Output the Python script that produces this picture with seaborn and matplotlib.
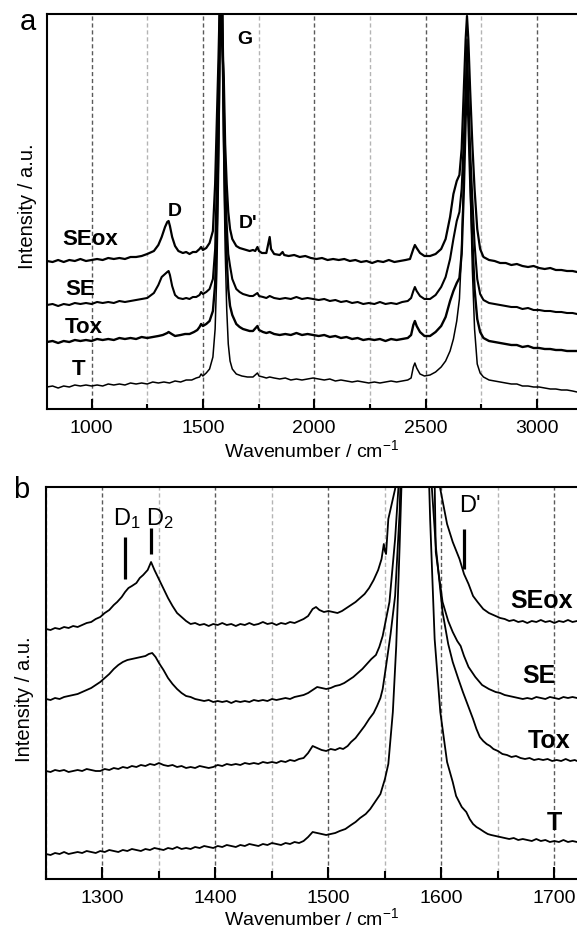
import matplotlib
matplotlib.use("Agg")
import matplotlib.pyplot as plt
import numpy as np
import pandas as pd
import seaborn as sns
from matplotlib.ticker import MultipleLocator

SAMPLES = ["SEox", "SE", "Tox", "T"]

# ---------------- panel a : full Raman spectra (wavenumber, intensity) ----------------
A_SEOX = [(800,148),(825,147),(850,149),(875,147),(900,149),(925,148),(950,150),(975,148),(1000,149),
          (1025,150),(1050,149),(1075,151),(1100,150),(1125,151),(1150,150),(1175,152),(1200,152),
          (1225,153),(1250,155),(1280,158),(1300,164),(1315,172),(1330,182),(1340,187),(1346,188),
          (1352,183),(1362,172),(1375,163),(1390,158),(1410,156),(1425,157),(1440,155),(1455,157),
          (1470,157),(1485,160),(1492,162),(1500,159),(1515,161),(1530,166),(1545,178),(1555,225),
          (1563,290),(1570,350),(1576,410),(1582,520),(1588,410),(1594,330),(1600,265),(1607,225),
          (1614,197),(1622,180),(1632,170),(1650,163),(1665,161),(1680,160),(1695,159),(1710,158),
          (1725,159),(1735,158),(1745,162),(1752,158),(1765,156),(1785,156),(1795,167),(1800,172),
          (1806,160),(1820,155),(1845,154),(1858,157),(1865,154),(1885,153),(1910,154),(1935,152),
          (1960,153),(1985,151),(2010,150),(2035,151),(2060,149),(2085,150),(2110,149),(2135,150),
          (2160,148),(2185,149),(2210,147),(2235,148),(2260,146),(2285,148),(2310,147),(2335,149),
          (2360,147),(2385,148),(2410,149),(2430,150),(2445,160),(2452,164),(2460,161),(2475,156),
          (2495,153),(2520,153),(2545,155),(2570,160),(2590,170),(2610,192),(2625,215),(2640,228),
          (2652,234),(2662,260),(2672,320),(2680,370),(2686,393),(2692,370),(2700,320),(2710,265),
          (2720,220),(2732,180),(2745,160),(2760,152),(2785,149),(2810,148),(2835,146),(2860,146),
          (2885,144),(2910,145),(2935,143),(2960,142),(2985,143),(3010,141),(3035,140),(3060,141),
          (3085,139),(3110,139),(3135,138),(3160,138),(3180,137)]
A_SE = [(800,104),(825,105),(850,103),(875,105),(900,104),(925,106),(950,105),(975,106),(1000,105),
        (1025,107),(1050,106),(1075,107),(1100,106),(1125,108),(1150,107),(1175,108),(1200,109),
        (1225,110),(1250,111),(1280,116),(1300,124),(1315,132),(1330,135),(1340,137),(1346,138),
        (1352,134),(1362,123),(1375,114),(1390,111),(1410,110),(1425,111),(1440,110),(1455,112),
        (1470,112),(1485,114),(1492,117),(1500,115),(1515,117),(1530,120),(1545,130),(1555,160),
        (1563,230),(1570,310),(1576,400),(1582,520),(1588,395),(1594,305),(1600,230),(1607,185),
        (1614,155),(1622,143),(1632,130),(1650,120),(1665,117),(1680,115),(1695,114),(1710,113),
        (1725,113),(1745,116),(1752,113),(1770,112),(1785,111),(1800,113),(1820,111),(1845,110),
        (1870,111),(1895,110),(1920,112),(1945,110),(1970,111),(1995,110),(2020,109),(2045,110),
        (2070,108),(2095,109),(2120,107),(2145,108),(2170,106),(2195,107),(2220,105),(2245,106),
        (2270,105),(2295,107),(2320,105),(2345,106),(2370,105),(2395,107),(2420,108),(2435,111),
        (2445,118),(2452,122),(2460,118),(2475,113),(2495,110),(2520,110),(2545,114),(2570,122),
        (2590,132),(2610,150),(2625,170),(2640,188),(2652,197),(2662,220),(2672,270),(2680,320),
        (2686,348),(2692,315),(2700,260),(2710,210),(2720,165),(2732,130),(2745,115),(2760,109),
        (2785,106),(2810,105),(2835,104),(2860,103),(2885,102),(2910,102),(2935,100),(2960,101),
        (2985,99),(3010,99),(3035,98),(3060,98),(3085,97),(3110,97),(3135,96),(3160,96),(3180,95)]
A_TOX = [(800,67),(825,68),(850,66),(875,68),(900,67),(925,69),(950,68),(975,69),(1000,68),
         (1025,70),(1050,69),(1075,70),(1100,69),(1125,71),(1150,70),(1175,71),(1200,70),(1225,72),
         (1250,71),(1275,72),(1300,73),(1320,74),(1340,76),(1346,77),(1360,75),(1375,73),(1400,74),
         (1420,75),(1440,75),(1460,77),(1475,79),(1485,82),(1492,85),(1500,83),(1515,85),(1530,88),
         (1545,98),(1555,125),(1563,185),(1570,270),(1576,370),(1582,520),(1588,380),(1594,275),
         (1600,200),(1607,150),(1614,120),(1622,103),(1632,94),(1650,85),(1665,82),(1680,80),
         (1695,79),(1710,78),(1725,78),(1745,83),(1752,79),(1770,77),(1785,76),(1800,77),(1820,75),
         (1845,74),(1870,75),(1895,74),(1920,76),(1945,74),(1970,75),(1995,74),(2020,73),(2045,74),
         (2070,72),(2095,73),(2120,71),(2145,72),(2170,70),(2195,71),(2220,69),(2245,70),(2270,69),
         (2295,70),(2320,68),(2345,70),(2370,69),(2395,70),(2420,71),(2435,74),(2445,84),(2452,88),
         (2460,83),(2475,77),(2495,73),(2520,73),(2545,77),(2570,83),(2590,92),(2610,108),(2625,118),
         (2640,126),(2652,131),(2662,155),(2672,220),(2680,290),(2686,330),(2692,290),(2700,230),
         (2710,170),(2720,120),(2732,90),(2745,77),(2760,71),(2785,68),(2810,67),(2835,66),(2860,65),
         (2885,64),(2910,64),(2935,62),(2960,63),(2985,61),(3010,61),(3035,60),(3060,60),(3085,59),
         (3110,59),(3135,58),(3160,58),(3180,58)]
A_T = [(800,22),(825,23),(850,21),(875,23),(900,22),(925,24),(950,23),(975,24),(1000,23),(1025,24),
       (1050,23),(1075,25),(1100,24),(1125,25),(1150,24),(1175,26),(1200,25),(1225,26),(1250,25),
       (1275,27),(1300,26),(1325,27),(1350,26),(1375,28),(1400,27),(1425,29),(1450,29),(1470,31),
       (1485,32),(1492,35),(1500,33),(1515,36),(1530,40),(1545,52),(1555,80),(1563,140),(1570,230),
       (1576,340),(1582,520),(1588,355),(1594,245),(1600,160),(1607,100),(1614,65),(1622,48),
       (1632,40),(1650,35),(1675,33),(1700,32),(1725,32),(1745,36),(1752,33),(1770,32),(1785,31),
       (1800,32),(1820,31),(1845,30),(1870,31),(1895,29),(1920,30),(1945,29),(1970,30),(1995,31),
       (2020,30),(2045,29),(2070,30),(2095,28),(2120,29),(2145,28),(2170,27),(2195,28),(2220,27),
       (2245,26),(2270,27),(2295,26),(2320,27),(2345,28),(2370,27),(2395,28),(2420,29),(2435,31),
       (2445,42),(2452,46),(2460,41),(2475,35),(2495,33),(2520,34),(2545,37),(2570,42),(2590,48),
       (2610,58),(2625,70),(2640,88),(2652,110),(2662,160),(2672,240),(2680,320),(2686,370),
       (2692,320),(2700,230),(2710,140),(2720,80),(2732,45),(2745,36),(2760,32),(2785,29),(2810,28),
       (2835,27),(2860,26),(2885,25),(2910,25),(2935,23),(2960,23),(2985,22),(3010,22),(3035,21),
       (3060,20),(3085,20),(3110,19),(3135,19),(3160,18),(3180,17)]

# ---------------- panel b : zoom on the D / G / D' region ----------------
B_SEOX = [(1250,250),(1254,249),(1258,251),(1262,250),(1266,252),(1270,251),(1274,253),(1278,252),
          (1282,254),(1286,256),(1290,257),(1294,260),(1298,262),(1302,266),(1306,269),(1310,274),
          (1313,277),(1317,282),(1320,287),(1323,291),(1326,293),(1330,296),(1333,301),(1336,304),
          (1340,309),(1343,317),(1346,309),(1349,302),(1352,295),(1355,288),(1358,281),(1362,273),
          (1366,266),(1370,262),(1374,258),(1378,255),(1382,256),(1386,254),(1390,255),(1394,253),
          (1398,255),(1402,254),(1406,256),(1410,254),(1414,255),(1418,253),(1422,255),(1426,254),
          (1430,256),(1434,254),(1438,255),(1442,257),(1446,255),(1450,256),(1454,254),(1458,256),
          (1462,255),(1466,257),(1470,256),(1474,258),(1478,260),(1482,263),(1486,270),(1489,272),
          (1492,269),(1496,267),(1500,268),(1504,267),(1508,266),(1512,268),(1516,271),(1520,274),
          (1524,277),(1528,281),(1532,285),(1536,291),(1540,299),(1544,309),(1547,320),(1549,335),
          (1550,328),(1551,325),(1553,360),(1556,375),(1559,390),(1563,440),(1568,580),(1580,1500),
          (1590,800),(1594,420),(1599,390),(1605,355),(1610,337),(1616,320),(1620,305),(1624,295),
          (1628,283),(1632,277),(1637,270),(1642,266),(1648,263),(1652,261),(1656,260),(1660,258),
          (1664,259),(1668,257),(1672,258),(1676,256),(1680,258),(1684,257),(1688,259),(1692,257),
          (1696,258),(1700,256),(1704,258),(1708,257),(1712,259),(1716,257),(1720,258)]
B_SE = [(1250,180),(1254,179),(1258,181),(1262,180),(1266,182),(1270,183),(1274,184),(1278,185),
        (1282,187),(1286,189),(1290,191),(1294,194),(1298,197),(1302,201),(1306,205),(1310,210),
        (1314,214),(1318,217),(1322,219),(1326,220),(1330,221),(1334,222),(1338,223),(1341,225),
        (1344,226),(1347,222),(1350,216),(1354,209),(1358,201),(1362,195),(1366,190),(1370,186),
        (1374,183),(1378,182),(1382,180),(1386,179),(1390,178),(1394,179),(1398,177),(1402,178),
        (1406,177),(1410,178),(1414,176),(1418,178),(1422,177),(1426,178),(1430,177),(1434,179),
        (1438,178),(1442,179),(1446,178),(1450,180),(1454,179),(1458,180),(1462,181),(1466,180),
        (1470,182),(1474,183),(1478,184),(1482,186),(1486,189),(1490,192),(1494,191),(1498,190),
        (1502,191),(1506,193),(1510,194),(1514,196),(1518,199),(1522,202),(1526,206),(1530,210),
        (1534,215),(1538,220),(1542,224),(1545,232),(1548,243),(1554,277),(1559,340),(1563,410),
        (1570,680),(1580,1480),(1590,680),(1595,327),(1601,277),(1606,258),(1610,247),(1614,238),
        (1617,233),(1620,223),(1624,212),(1630,202),(1636,194),(1642,190),(1648,187),(1652,186),
        (1656,184),(1660,183),(1664,182),(1668,181),(1672,180),(1676,181),(1680,180),(1684,182),
        (1688,181),(1692,180),(1696,182),(1700,181),(1704,180),(1708,182),(1712,181),(1716,182),
        (1720,181)]
B_TOX = [(1250,108),(1254,107),(1258,109),(1262,108),(1266,109),(1270,107),(1274,108),(1278,109),
         (1282,108),(1286,110),(1290,109),(1294,108),(1298,108),(1302,110),(1306,109),(1310,111),
         (1314,110),(1318,112),(1322,111),(1326,113),(1330,112),(1334,114),(1338,113),(1342,115),
         (1346,114),(1350,116),(1354,114),(1358,113),(1362,114),(1366,112),(1370,113),(1374,111),
         (1378,112),(1382,111),(1386,113),(1390,112),(1394,111),(1398,112),(1402,114),(1406,113),
         (1410,115),(1414,114),(1418,115),(1422,114),(1426,116),(1430,115),(1434,116),(1438,115),
         (1442,117),(1446,116),(1450,117),(1454,116),(1458,118),(1462,117),(1466,119),(1470,118),
         (1474,120),(1478,121),(1482,126),(1486,133),(1490,131),(1494,129),(1498,128),(1502,130),
         (1506,129),(1510,131),(1513,130),(1517,133),(1520,137),(1524,141),(1528,147),(1532,153),
         (1536,160),(1540,166),(1543,173),(1546,181),(1548,190),(1551,213),(1555,245),(1559,283),
         (1563,367),(1567,530),(1580,1480),(1588,580),(1591,400),(1595,333),(1601,267),(1606,235),
         (1610,217),(1615,200),(1619,187),(1624,172),(1628,160),(1631,150),(1634,142),(1637,138),
         (1640,135),(1643,133),(1646,130),(1650,128),(1654,125),(1658,124),(1662,122),(1666,123),
         (1670,121),(1674,120),(1678,121),(1682,119),(1686,120),(1690,119),(1694,120),(1698,118),
         (1702,119),(1706,118),(1710,120),(1714,118),(1718,119),(1720,118)]
B_T = [(1250,25),(1254,24),(1258,26),(1262,25),(1266,27),(1270,25),(1274,26),(1278,27),(1282,26),
       (1286,28),(1290,27),(1294,26),(1298,28),(1302,27),(1306,29),(1310,28),(1314,27),(1318,29),
       (1322,28),(1326,30),(1330,29),(1334,28),(1338,30),(1342,29),(1346,31),(1350,30),(1354,29),
       (1358,31),(1362,30),(1366,32),(1370,30),(1374,31),(1378,30),(1382,32),(1386,31),(1390,33),
       (1394,32),(1398,31),(1402,33),(1406,32),(1410,34),(1414,33),(1418,32),(1422,34),(1426,33),
       (1430,35),(1434,34),(1438,33),(1442,35),(1446,34),(1450,36),(1454,35),(1458,34),(1462,36),
       (1466,35),(1470,37),(1474,36),(1478,38),(1482,42),(1486,47),(1490,46),(1494,45),(1498,44),
       (1502,45),(1506,46),(1510,48),(1515,50),(1520,54),(1524,57),(1528,61),(1533,65),(1537,70),
       (1540,75),(1543,80),(1546,85),(1550,100),(1553,115),(1557,167),(1560,233),(1563,333),
       (1567,480),(1580,1480),(1587,480),(1590,360),(1594,240),(1599,167),(1605,117),(1610,97),
       (1613,83),(1618,72),(1622,67),(1625,60),(1628,55),(1631,52),(1634,50),(1638,47),(1641,45),
       (1644,44),(1648,43),(1652,42),(1656,41),(1660,40),(1664,41),(1668,39),(1672,40),(1676,39),
       (1680,38),(1684,40),(1688,38),(1692,39),(1696,37),(1700,38),(1704,37),(1708,39),(1712,37),
       (1716,38),(1720,37)]

# peak markers in panel b
MARK_LABELS = ["D$_1$", "D$_2$", "D'"]
MARK_POS = [1320, 1343, 1620]
MARK_LOW = [300, 325, 310]
MARK_HIGH = [342, 351, 350]

# ---------------- style ----------------
sns.set_style("ticks", {"text.color": "black", "axes.labelcolor": "black",
                        "xtick.color": "black", "ytick.color": "black",
                        "axes.edgecolor": "black"})
plt.rcParams["font.family"] = ["Liberation Sans", "DejaVu Sans"]
plt.rcParams["mathtext.fontset"] = "custom"
plt.rcParams["mathtext.rm"] = "Liberation Sans"
plt.rcParams["mathtext.it"] = "Liberation Sans"
plt.rcParams["axes.linewidth"] = 1.5
plt.rcParams["text.color"] = "black"


def frame(series):
    rows = []
    for name, pts in zip(SAMPLES, series):
        for x, y in pts:
            rows.append((name, x, y))
    return pd.DataFrame(rows, columns=["sample", "wavenumber", "intensity"])


def style_axis(ax, major, minor, maj_len, min_len, pad, labelpad):
    ax.xaxis.set_major_locator(MultipleLocator(major))
    ax.xaxis.set_minor_locator(MultipleLocator(minor))
    ax.set_yticks([])
    ax.tick_params(axis="x", which="major", direction="in", length=maj_len, width=1.5,
                   labelsize=14, pad=pad, top=False, colors="black")
    ax.tick_params(axis="x", which="minor", direction="in", length=min_len, width=1.5, top=False)
    ax.xaxis.grid(True, which="major", color="#5a5a5a", linestyle=(0, (3, 2)), linewidth=1.0)
    ax.xaxis.grid(True, which="minor", color="#b4b4b4", linestyle=(0, (3, 2)), linewidth=1.0)
    ax.set_axisbelow(True)
    ax.spines["right"].set_visible(False)
    for s in ("left", "top", "bottom"):
        ax.spines[s].set_linewidth(1.5)
        ax.spines[s].set_color("black")
    ax.set_xlabel("Wavenumber / cm$^{-1}$", fontsize=14, labelpad=labelpad, color="black")
    ax.set_ylabel("Intensity / a.u.", fontsize=14.5, color="black")
    ax.yaxis.label.set_va("center")


fig = plt.figure(figsize=(5.77, 9.28), dpi=100)
ax1 = fig.add_axes([47 / 577, 1 - 410 / 928, 530 / 577, 395 / 928])
ax2 = fig.add_axes([46 / 577, 1 - 880 / 928, 531 / 577, 392 / 928])

pal = {s: "black" for s in SAMPLES}

dfa = frame([A_SEOX, A_SE, A_TOX, A_T])
sns.lineplot(data=dfa, x="wavenumber", y="intensity", hue="sample", palette=pal,
             size="sample", sizes={"SEox": 1.6, "SE": 1.5, "Tox": 1.7, "T": 1.1},
             estimator=None, sort=False, legend=False, ax=ax1)
ax1.set_xlim(800, 3180)
ax1.set_ylim(0, 395)
style_axis(ax1, 500, 250, 7, 3.5, 7, 2)
ax1.yaxis.set_label_coords(-0.036, 0.515)

dfb = frame([B_SEOX, B_SE, B_TOX, B_T])
sns.lineplot(data=dfb, x="wavenumber", y="intensity", hue="sample", palette=pal,
             size="sample", sizes={"SEox": 1.3, "SE": 1.3, "Tox": 1.3, "T": 1.3},
             estimator=None, sort=False, legend=False, ax=ax2)
ax2.set_xlim(1250, 1720)
ax2.set_ylim(0, 392)
style_axis(ax2, 100, 50, 9, 6, 7, 0)
ax2.yaxis.set_label_coords(-0.04, 0.46)

# sample labels, panel a
bold_a = dict(fontsize=16, fontweight="bold", va="baseline")
ax1.text(867, 165, "SEox", ha="left", **bold_a)
ax1.text(881, 115, "SE", ha="left", **bold_a)
ax1.text(881, 77, "Tox", ha="left", **bold_a)
ax1.text(912, 35, "T", ha="left", **bold_a)
ax1.text(1375, 193.5, "D", ha="center", fontsize=14, fontweight="bold", va="baseline")
ax1.text(1688, 366, "G", ha="center", fontsize=14, fontweight="bold", va="baseline")
ax1.text(1663, 182, "D'", ha="left", fontsize=14, fontweight="bold", va="baseline")

# sample labels, panel b
bold_b = dict(fontsize=18, fontweight="bold", va="baseline")
ax2.text(1716, 272, "SEox", ha="right", **bold_b)
ax2.text(1701, 197, "SE", ha="right", **bold_b)
ax2.text(1714, 132, "Tox", ha="right", **bold_b)
ax2.text(1700, 50, "T", ha="center", **bold_b)

ax2.vlines(MARK_POS, MARK_LOW, MARK_HIGH, color="black", linewidth=2.3)
for lab, x0 in zip(MARK_LABELS, [1309, 1338.5, 1616]):
    y0 = 368 if lab == "D'" else 355
    ax2.text(x0, y0, lab, ha="left", va="baseline", fontsize=17)

fig.text(20 / 577, 1 - 30 / 928, "a", fontsize=21, va="baseline", ha="left")
fig.text(13 / 577, 1 - 498 / 928, "b", fontsize=21, va="baseline", ha="left")

fig.savefig("out.png", dpi=100)
